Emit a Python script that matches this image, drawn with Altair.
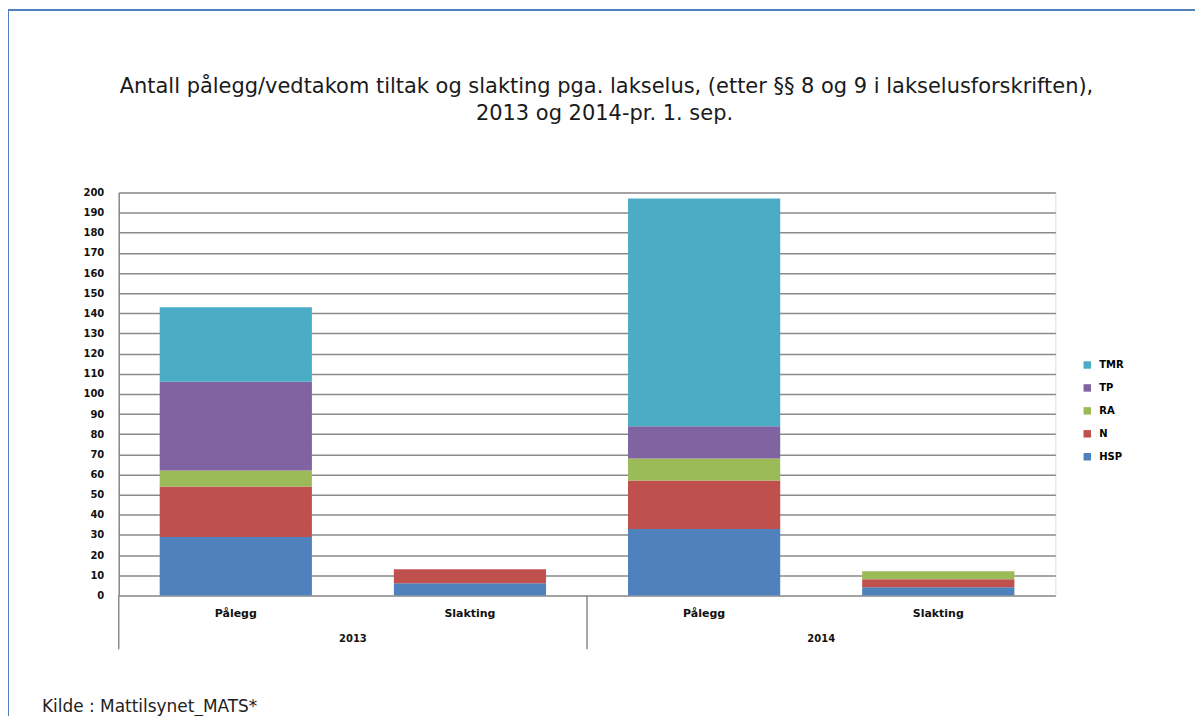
import altair as alt
import pandas as pd

years = ["2013", "2013", "2014", "2014"]
types = ["Pålegg", "Slakting", "Pålegg", "Slakting"]
HSP = [29, 6, 33, 4]
N = [25, 7, 24, 4]
RA = [8, 0, 11, 4]
TP = [44, 0, 16, 0]
TMR = [37, 0, 113, 0]

series_names = ["HSP", "N", "RA", "TP", "TMR"]
series_vals = [HSP, N, RA, TP, TMR]
colors = {"HSP": "#4f81bd", "N": "#c0504d", "RA": "#9bbb59", "TP": "#8064a2", "TMR": "#4bacc6"}
legend_order = ["TMR", "TP", "RA", "N", "HSP"]

title_lines = [
    "Antall pålegg/vedtakom tiltak og slakting pga. lakselus, (etter §§ 8 og 9 i lakselusforskriften),",
    "2013 og 2014-pr. 1. sep.",
]
source = "Kilde : Mattilsynet_MATS*"

cats = [f"{y}|{t}" for y, t in zip(years, types)]
rows = []
for si, (name, vals) in enumerate(zip(series_names, series_vals)):
    for c, v in zip(cats, vals):
        rows.append({"cat": c, "serie": name, "value": v, "rank": si})
df = pd.DataFrame(rows)

W, H = 939, 404
FONT = "DejaVu Sans"
TFONT = "DejaVu Sans"

xscale = alt.Scale(domain=cats, paddingInner=0, paddingOuter=0)

bars = alt.Chart(df).mark_bar(width={"band": 0.65}).encode(
    x=alt.X("cat:N", scale=xscale, sort=cats,
            axis=alt.Axis(title=None, labelExpr="split(datum.label,'|')[1]", labelAngle=0,
                          ticks=False, domain=False, labelFontSize=11, labelFontWeight="bold",
                          labelColor="#111", labelPadding=12, labelFont=FONT)),
    y=alt.Y("value:Q", stack="zero", scale=alt.Scale(domain=[0, 200]),
            axis=alt.Axis(title=None, values=list(range(0, 201, 10)), labelOverlap=False,
                          ticks=False, labelFontSize=10, labelFontWeight="bold", labelColor="#111",
                          labelPadding=15, labelFont=FONT, gridColor="#8a8a8a", gridWidth=1.5,
                          gridOpacity=1, domainColor="#8a8a8a", domainWidth=1.5)),
    color=alt.Color("serie:N", scale=alt.Scale(domain=legend_order,
                                               range=[colors[s] for s in legend_order]),
                    legend=alt.Legend(title=None, orient="none", legendX=966, legendY=168,
                                      symbolType="square", symbolSize=56, labelFontSize=10,
                                      labelFontWeight="bold", labelFont=FONT, rowPadding=13,
                                      labelOffset=7, symbolStrokeWidth=0)),
    order=alt.Order("rank:Q", sort="ascending"),
)

sep_df = pd.DataFrame({"cat": [cats[0], cats[2]], "year": [years[0], years[2]]})
seps = alt.Chart(sep_df).mark_rule(color="#8a8a8a", strokeWidth=1.5).encode(
    x=alt.X("cat:N", scale=xscale, sort=cats, bandPosition=0),
    y=alt.value(H), y2=alt.value(H + 54),
)
year_txt = alt.Chart(sep_df).mark_text(fontSize=10, fontWeight="bold", font=FONT, color="#111").encode(
    x=alt.X("cat:N", scale=xscale, sort=cats, bandPosition=1),
    y=alt.value(H + 44),
    text="year:N",
)
title1 = alt.Chart(pd.DataFrame({"t": [title_lines[0]]})).mark_text(
    fontSize=21, font=TFONT, color="#1a1a1a", align="center", baseline="alphabetic").encode(
    x=alt.value(489), y=alt.value(-100), text="t:N")
title2 = alt.Chart(pd.DataFrame({"t": [title_lines[1]]})).mark_text(
    fontSize=21, font=TFONT, color="#1a1a1a", align="center", baseline="alphabetic").encode(
    x=alt.value(487), y=alt.value(-73), text="t:N")
src = alt.Chart(pd.DataFrame({"t": [source]})).mark_text(
    fontSize=17, font=TFONT, color="#222", align="left", baseline="alphabetic").encode(
    x=alt.value(-77), y=alt.value(521), text="t:N")
frame = alt.Chart(pd.DataFrame({"a": [0]})).mark_rule(color="#4f81bd", strokeWidth=2).encode(
    x=alt.value(-111), y=alt.value(-183), y2=alt.value(540))
frame_top = alt.Chart(pd.DataFrame({"a": [0]})).mark_rule(color="#4f81bd", strokeWidth=2).encode(
    x=alt.value(-111), x2=alt.value(1100), y=alt.value(-183))

chart = alt.layer(frame, frame_top, bars, seps, year_txt, title1, title2, src).properties(
    width=W, height=H,
    autosize=alt.AutoSizeParams(type="none"),
    padding={"left": 111, "top": 184, "right": 140, "bottom": 120},
).configure_view(stroke=None).configure(background="white")

chart.save("out.html", embed_options={"renderer": "svg", "actions": False})
